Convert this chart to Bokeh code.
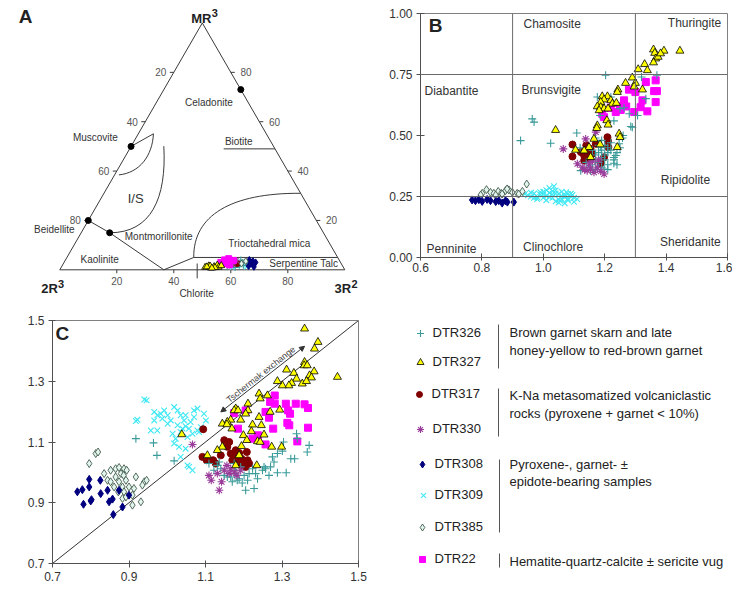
import numpy as np
from bokeh.plotting import figure
from bokeh.layouts import row, column
from bokeh.models import (ColumnDataSource, Range1d, FixedTicker, PrintfTickFormatter,
                          Span, Label, Arrow, NormalHead)
from bokeh.core.properties import value
from bokeh.embed import file_html
from bokeh.resources import INLINE

FONT = "Liberation Sans"
H = np.sqrt(3) / 2

# ------------------------------------------------------------------
# Chlorite analyses, Al(IV) vs Fe/(Fe+Mg)  (panel B)
# ------------------------------------------------------------------
DTR326_B_AL4 = [0.926, 0.964, 0.970, 1.024, 1.109, 1.203, 1.370, 1.334, 1.307, 1.285, 1.280, 1.263,
                1.176, 1.220, 1.185, 1.258, 1.247, 1.236, 1.230, 1.198, 1.154, 1.122, 1.187,
                1.18, 1.19, 1.20, 1.21, 1.19, 1.17, 1.18, 1.20, 1.21, 1.22, 1.17, 1.16, 1.15, 1.19,
                1.21, 1.23, 1.24, 1.22, 1.20, 1.18, 1.16, 1.17, 1.14, 1.25, 1.23, 1.26, 1.21, 1.24,
                1.19, 1.17, 1.25, 1.32, 1.23, 1.12, 1.29]
DTR326_B_FE = [0.479, 0.568, 0.555, 0.468, 0.510, 0.747, 0.747, 0.651, 0.582, 0.537, 0.589, 0.614,
               0.658, 0.658, 0.582, 0.490, 0.466, 0.418, 0.386, 0.363, 0.356, 0.356, 0.452,
               0.43, 0.44, 0.42, 0.45, 0.41, 0.40, 0.39, 0.40, 0.43, 0.44, 0.42, 0.38, 0.37, 0.37,
               0.38, 0.41, 0.43, 0.47, 0.46, 0.46, 0.44, 0.36, 0.39, 0.45, 0.40, 0.50, 0.36, 0.38,
               0.48, 0.49, 0.61, 0.74, 0.56, 0.45, 0.534]

DTR327_B_AL4 = [1.040, 1.359, 1.363, 1.393, 1.445, 1.366, 1.359, 1.374, 1.382, 1.330, 1.309, 1.339,
                1.290, 1.300, 1.268, 1.243, 1.241, 1.323, 1.296, 1.209, 1.192, 1.198, 1.187, 1.220,
                1.225, 1.238, 1.176, 1.187, 1.198, 1.211, 1.182, 1.207, 1.211, 1.176, 1.174, 1.247,
                1.250, 1.241, 1.165, 1.149, 1.133, 1.105, 1.185, 1.154]
DTR327_B_FE = [0.522, 0.852, 0.838, 0.847, 0.847, 0.815, 0.799, 0.822, 0.836, 0.792, 0.771, 0.767,
               0.737, 0.715, 0.715, 0.688, 0.678, 0.688, 0.700, 0.660, 0.660, 0.647, 0.637, 0.644,
               0.630, 0.633, 0.619, 0.616, 0.610, 0.610, 0.603, 0.562, 0.544, 0.541, 0.530, 0.507,
               0.493, 0.452, 0.486, 0.452, 0.438, 0.441, 0.463, 0.411]

DTR317_B_AL4 = [1.095, 1.095, 1.122, 1.133, 1.154, 1.160, 1.209, 1.211, 1.212, 1.187, 1.143, 1.171,
                1.198, 1.133, 1.150, 1.140]
DTR317_B_FE = [0.463, 0.414, 0.432, 0.418, 0.445, 0.425, 0.493, 0.477, 0.452, 0.386, 0.404, 0.466,
               0.411, 0.397, 0.430, 0.460]

DTR330_B_AL4 = [1.065, 1.138, 1.111, 1.127, 1.143, 1.154, 1.165, 1.176, 1.187, 1.198, 1.149, 1.160,
                1.171, 1.135, 1.180]
DTR330_B_FE = [0.445, 0.486, 0.384, 0.370, 0.356, 0.363, 0.349, 0.370, 0.353, 0.342, 0.384, 0.395,
               0.514, 0.360, 0.400]

DTR308_B_AL4 = [0.768, 0.779, 0.790, 0.801, 0.817, 0.828, 0.845, 0.855, 0.866, 0.883, 0.904, 0.877]
DTR308_B_FE = [0.236, 0.233, 0.237, 0.230, 0.238, 0.233, 0.229, 0.233, 0.223, 0.227, 0.227, 0.233]

DTR309_B_AL4 = [0.94, 0.95, 0.96, 0.97, 0.98, 0.99, 1.00, 1.01, 1.02, 1.03, 1.04, 1.05, 1.06, 1.07,
                1.08, 1.09, 1.10, 1.11, 0.96, 0.98, 1.00, 1.02, 1.04, 1.06, 1.08, 1.10, 0.97, 0.99,
                1.01, 1.03, 1.05, 1.07, 1.09, 1.00, 1.02, 1.04, 1.06, 1.08, 1.03, 1.05, 1.07, 1.01,
                1.035, 1.055, 1.075, 1.095]
DTR309_B_FE = [0.260, 0.255, 0.250, 0.262, 0.248, 0.258, 0.270, 0.252, 0.265, 0.245, 0.275, 0.260,
               0.240, 0.255, 0.235, 0.250, 0.245, 0.240, 0.265, 0.240, 0.245, 0.285, 0.230, 0.270,
               0.260, 0.228, 0.245, 0.268, 0.235, 0.258, 0.225, 0.248, 0.262, 0.258, 0.248, 0.262,
               0.252, 0.242, 0.272, 0.238, 0.222, 0.276, 0.292, 0.232, 0.268, 0.256]

DTR385_B_AL4 = [0.801, 0.815, 0.828, 0.839, 0.853, 0.863, 0.877, 0.888, 0.899, 0.915, 0.932, 0.946,
                0.796, 0.845, 0.866, 0.882, 0.920]
DTR385_B_FE = [0.263, 0.278, 0.267, 0.263, 0.271, 0.263, 0.274, 0.277, 0.267, 0.263, 0.271, 0.301,
               0.256, 0.256, 0.260, 0.281, 0.260]

DTR22_B_AL4 = [1.220, 1.236, 1.252, 1.263, 1.279, 1.300, 1.317, 1.323, 1.339, 1.334, 1.361, 1.370,
               1.366, 1.366, 1.270, 1.198, 1.192, 1.296, 1.250]
DTR22_B_FE = [0.614, 0.596, 0.605, 0.644, 0.688, 0.678, 0.616, 0.644, 0.599, 0.719, 0.682, 0.682,
              0.637, 0.726, 0.619, 0.575, 0.589, 0.596, 0.620]

# ------------------------------------------------------------------
# Al(IV) vs Al(VI)  (panel C)
# ------------------------------------------------------------------
DTR327_C_AL4 = [1.359, 1.394, 1.385, 1.359, 1.358, 1.366, 1.384, 1.372, 1.377, 1.353, 1.364, 1.312,
                1.331, 1.338, 1.325, 1.318, 1.301, 1.288, 1.445, 1.262, 1.240, 1.243, 1.269, 1.294,
                1.211, 1.211, 1.205, 1.179, 1.175, 1.185, 1.166, 1.157, 1.144, 1.156, 1.192, 1.169,
                1.223, 1.246, 1.240, 1.253, 1.220, 1.199, 1.194, 1.208, 1.236, 1.243, 1.273, 1.299,
                1.144, 1.131, 1.105, 1.188, 1.179, 1.234, 1.038]
DTR327_C_AL6 = [1.473, 1.429, 1.407, 1.363, 1.352, 1.352, 1.332, 1.319, 1.312, 1.292, 1.300, 1.338,
                1.327, 1.308, 1.294, 1.286, 1.286, 1.300, 1.314, 1.253, 1.259, 1.243, 1.199, 1.206,
                1.226, 1.204, 1.193, 1.210, 1.204, 1.204, 1.173, 1.166, 1.160, 1.158, 1.173, 1.144,
                1.157, 1.155, 1.182, 1.124, 1.135, 1.122, 1.086, 1.106, 1.102, 1.100, 1.084, 1.084,
                1.084, 1.073, 1.056, 1.056, 1.023, 1.023, 1.125]

DTR22_C_AL4 = [1.281, 1.269, 1.281, 1.310, 1.336, 1.359, 1.368, 1.316, 1.321, 1.257, 1.266, 1.205,
               1.185, 1.277, 1.314, 1.319, 1.368, 1.340, 1.223, 1.237, 1.257, 1.175]
DTR22_C_AL6 = [1.253, 1.232, 1.226, 1.226, 1.226, 1.224, 1.212, 1.204, 1.193, 1.199, 1.180, 1.204,
               1.144, 1.144, 1.163, 1.155, 1.147, 1.102, 1.111, 1.122, 1.092, 1.195]

DTR317_C_AL4 = [1.094, 1.092, 1.103, 1.120, 1.127, 1.149, 1.162, 1.166, 1.175, 1.188, 1.194, 1.208,
                1.210, 1.214, 1.205, 1.179, 1.157, 1.140, 1.170, 1.196, 1.183]
DTR317_C_AL6 = [1.142, 1.051, 1.040, 1.040, 1.029, 1.106, 1.100, 1.062, 1.051, 1.064, 1.045, 1.067,
                1.040, 1.029, 1.018, 1.073, 1.084, 1.056, 1.040, 1.023, 1.034]

DTR330_C_AL4 = [1.066, 1.109, 1.115, 1.131, 1.142, 1.136, 1.149, 1.156, 1.166, 1.175, 1.192, 1.182, 1.162]
DTR330_C_AL6 = [1.092, 0.990, 0.974, 0.996, 0.969, 0.941, 1.007, 1.023, 1.012, 1.001, 1.007, 0.990, 0.996]

DTR326_C_AL4 = [0.918, 0.964, 0.973, 1.018, 1.109, 1.122, 1.140, 1.157, 1.175, 1.183, 1.196, 1.210,
                1.205, 1.227, 1.231, 1.249, 1.257, 1.279, 1.275, 1.270, 1.288, 1.301, 1.304, 1.323,
                1.338, 1.340, 1.371, 1.366, 1.333, 1.311, 1.288, 1.266, 1.253, 1.223, 1.131, 1.149,
                1.166, 1.170, 1.188, 1.214, 1.236, 1.136, 1.175, 1.192, 1.179, 1.201]
DTR326_C_AL6 = [1.111, 1.097, 1.056, 1.038, 1.029, 1.007, 1.012, 0.985, 0.996, 0.974, 0.965, 0.974,
                0.941, 0.947, 0.996, 1.007, 1.012, 1.034, 1.051, 1.018, 1.062, 1.070, 1.100, 1.045,
                1.127, 1.111, 1.089, 1.067, 1.045, 0.999, 0.999, 0.990, 1.018, 1.012, 1.023, 0.990,
                0.985, 0.969, 0.979, 0.996, 0.979, 1.034, 1.029, 1.018, 1.007, 0.990]

DTR309_C_AL4 = [0.940, 0.946, 0.922, 0.918, 0.966, 0.974, 0.983, 0.992, 1.001, 0.987, 1.018, 1.027,
                1.035, 1.048, 1.070, 1.079, 1.070, 1.061, 1.048, 1.040, 1.027, 1.009, 1.001, 1.014,
                1.022, 1.035, 1.053, 1.066, 1.083, 1.088, 1.096, 1.101, 1.018, 1.031, 1.048, 1.035,
                1.053, 1.066, 1.057, 1.079, 0.957, 0.974, 0.966, 1.044, 1.057]
DTR309_C_AL6 = [1.240, 1.237, 1.173, 1.169, 1.199, 1.188, 1.193, 1.204, 1.188, 1.177, 1.215, 1.204,
                1.188, 1.188, 1.204, 1.210, 1.182, 1.166, 1.152, 1.144, 1.155, 1.171, 1.160, 1.127,
                1.111, 1.133, 1.116, 1.127, 1.133, 1.149, 1.193, 1.171, 1.095, 1.084, 1.078, 1.051,
                1.023, 1.007, 1.018, 1.138, 1.138, 1.138, 1.171, 1.171, 1.144]

DTR385_C_AL4 = [0.796, 0.813, 0.819, 0.835, 0.852, 0.865, 0.874, 0.879, 0.887, 0.894, 0.844, 0.852,
                0.865, 0.874, 0.886, 0.892, 0.861, 0.872, 0.883, 0.887, 0.900, 0.913, 0.909, 0.918,
                0.940, 0.935, 0.946, 0.931, 0.909, 0.883, 0.892]
DTR385_C_AL6 = [1.029, 1.062, 1.067, 0.996, 1.007, 1.012, 1.016, 0.996, 1.012, 1.007, 0.974, 0.969,
                0.985, 0.969, 0.990, 0.974, 0.952, 0.936, 0.952, 0.936, 0.952, 0.947, 0.925, 0.985,
                0.969, 0.958, 0.974, 0.903, 0.892, 0.914, 0.919]

DTR308_C_AL4 = [0.765, 0.778, 0.796, 0.796, 0.781, 0.800, 0.802, 0.825, 0.826, 0.844, 0.848, 0.857,
                0.874, 0.900, 0.883, 0.859]
DTR308_C_AL6 = [0.936, 0.943, 0.952, 0.977, 0.895, 0.906, 0.910, 0.974, 0.930, 0.941, 0.903, 0.912,
                0.941, 0.925, 0.886, 0.861]

# ------------------------------------------------------------------
# Ternary MR3 - 2R3 - 3R2 (panel A): MR3 % and 3R2 % of each analysis
# ------------------------------------------------------------------
DTR327_A_MR3 = [1.0, 1.6, 0.8, 1.3, 1.9, 1.1, 1.5, 0.9, 1.7, 1.2, 0.7]
DTR327_A_3R2 = [50.5, 51.5, 52.5, 53.5, 54.3, 55.2, 52.0, 54.0, 55.8, 51.0, 53.0]
DTR22_A_MR3 = [3.0, 4.0, 2.5, 3.5, 4.5, 2.0, 3.8]
DTR22_A_3R2 = [55.0, 55.8, 56.5, 57.2, 57.0, 58.5, 59.0]
DTR330_A_MR3 = [2.5, 3.2, 2.0, 3.8]
DTR330_A_3R2 = [57.5, 58.5, 59.5, 60.0]
DTR326_A_MR3 = [1.5, 2.5, 3.5, 1.0, 2.0, 3.0, 4.0, 1.8, 2.8]
DTR326_A_3R2 = [58.0, 59.0, 60.0, 61.0, 62.0, 62.5, 61.5, 63.5, 64.0]
DTR317_A_MR3 = [2.0, 3.0, 2.5]
DTR317_A_3R2 = [58.5, 59.5, 61.0]
DTR309_A_MR3 = [1.0, 1.5, 2.0, 2.5, 1.2]
DTR309_A_3R2 = [60.0, 61.5, 63.0, 64.5, 65.0]
DTR385_A_MR3 = [2.5, 3.5]
DTR385_A_3R2 = [62.5, 63.5]
DTR308_A_MR3 = [1.5, 2.5, 3.5, 2.0, 3.0, 1.2, 4.0]
DTR308_A_3R2 = [65.5, 65.8, 66.0, 67.0, 67.2, 67.5, 64.5]

# Ternary frame, ticks and reference compositions (MR3 %, 3R2 %)
TRI_MR3 = [0, 0, 100, 0]
TRI_3R2 = [0, 100, 0, 0]
TERN_TICKS = [20, 40, 60, 80]
END_MEMBER_NAMES = ["Muscovite", "Beidellite", "Montmorillonite", "Celadonite"]
END_MEMBER_MR3 = [50, 20, 15, 73]
END_MEMBER_3R2 = [0, 0, 10, 27]

# Chlorite / mica field boundaries (MR3 %, 3R2 %)
KAOL_MR3 = [20, 15, 0, 5]
KAOL_3R2 = [0, 10, 36.5, 44.5]
SERP_MR3 = [5, 5]
SERP_3R2 = [44.5, 95]
BIOT_MR3 = [49, 49]
BIOT_3R2 = [33, 51]
MUSC_MR3 = [50, 55.1]
MUSC_3R2 = [0, 5.3]
# cubic Bezier fields: start, control 1, control 2, end
MUSC_CURVE_MR3 = [55.1, 46.2, 39.3, 38.45]
MUSC_CURVE_3R2 = [5.3, 9.4, 8.37, 1.5]
IS_CURVE_MR3 = [50.1, 28.87, 15.01, 15]
IS_CURVE_3R2 = [11.45, 23.07, 24.5, 10]
MICA_CURVE_MR3 = [5, 21.94, 31.18, 31]
MICA_CURVE_3R2 = [44.5, 35.83, 44.41, 69]

# Chlorite classification limits (panel B) and 1:1 line (panel C)
B_AL4_LIMITS = [0.9, 1.3]
B_FE_LIMITS = [0.25, 0.75]
B_XTICKS = [0.6, 0.8, 1.0, 1.2, 1.4, 1.6]
B_YTICKS = [0.0, 0.25, 0.5, 0.75, 1.0]
C_TICKS = [0.7, 0.9, 1.1, 1.3, 1.5]
ONE_TO_ONE = [0.7, 1.5]
TSCHERMAK_START = (1.14, 1.199)
TSCHERMAK_END = (1.359, 1.415)

SAMPLES = ["DTR309", "DTR385", "DTR308", "DTR22", "DTR317", "DTR326", "DTR330", "DTR327"]
DATA_B = {
    "DTR326": (DTR326_B_AL4, DTR326_B_FE), "DTR327": (DTR327_B_AL4, DTR327_B_FE),
    "DTR317": (DTR317_B_AL4, DTR317_B_FE), "DTR330": (DTR330_B_AL4, DTR330_B_FE),
    "DTR308": (DTR308_B_AL4, DTR308_B_FE), "DTR309": (DTR309_B_AL4, DTR309_B_FE),
    "DTR385": (DTR385_B_AL4, DTR385_B_FE), "DTR22": (DTR22_B_AL4, DTR22_B_FE),
}
DATA_C = {
    "DTR326": (DTR326_C_AL4, DTR326_C_AL6), "DTR327": (DTR327_C_AL4, DTR327_C_AL6),
    "DTR317": (DTR317_C_AL4, DTR317_C_AL6), "DTR330": (DTR330_C_AL4, DTR330_C_AL6),
    "DTR308": (DTR308_C_AL4, DTR308_C_AL6), "DTR309": (DTR309_C_AL4, DTR309_C_AL6),
    "DTR385": (DTR385_C_AL4, DTR385_C_AL6), "DTR22": (DTR22_C_AL4, DTR22_C_AL6),
}
DATA_A = {
    "DTR309": (DTR309_A_MR3, DTR309_A_3R2), "DTR326": (DTR326_A_MR3, DTR326_A_3R2),
    "DTR317": (DTR317_A_MR3, DTR317_A_3R2), "DTR330": (DTR330_A_MR3, DTR330_A_3R2),
    "DTR22": (DTR22_A_MR3, DTR22_A_3R2), "DTR327": (DTR327_A_MR3, DTR327_A_3R2),
    "DTR308": (DTR308_A_MR3, DTR308_A_3R2), "DTR385": (DTR385_A_MR3, DTR385_A_3R2),
}

STYLE = {
    "DTR326": dict(marker="cross", size=8, line_color="#3a9a9a", fill_color=None, line_width=1.1),
    "DTR327": dict(marker="triangle", size=8, line_color="#000000", fill_color="#ffff00", line_width=0.8),
    "DTR317": dict(marker="circle", size=7, line_color="#800000", fill_color="#800000", line_width=1),
    "DTR330": dict(marker="asterisk", size=8, line_color="#9a3c9a", fill_color=None, line_width=1.1),
    "DTR308": dict(marker="diamond", size=8, line_color="#00007f", fill_color="#00007f", line_width=1),
    "DTR309": dict(marker="x", size=8, line_color="#3ee8f4", fill_color=None, line_width=1.1),
    "DTR385": dict(marker="diamond", size=8, line_color="#405a4a", fill_color="#e4f4ee", line_width=0.9),
    "DTR22": dict(marker="square", size=7, line_color="#ff00ff", fill_color="#ff00ff", line_width=1),
}


def ternary_xy(mr3, r2):
    """Convert MR3 % and 3R2 % to cartesian diagram units (edge length 100)."""
    mr3 = np.asarray(mr3, dtype=float)
    r2 = np.asarray(r2, dtype=float)
    return r2 + mr3 / 2.0, mr3 * H


def add_text(p, x, y, text, size="10px", color="#333333", align="center",
             baseline="middle", bold=False, angle=0.0):
    p.text(x=x, y=y, text=text, text_font=value(FONT), text_font_size=size,
           text_color=color, text_align=align, text_baseline=baseline,
           text_font_style="bold" if bold else "normal", angle=angle)


def screen_label(p, x, y, text, size, align="left", baseline="alphabetic", angle=0.0):
    p.add_layout(Label(x=x, y=y, x_units="screen", y_units="screen", text=text,
                       text_font=FONT, text_font_size=size, text_font_style="bold",
                       text_align=align, text_baseline=baseline, angle=angle,
                       text_color="#222222"))


# ==================================================================
# Panel A : ternary diagram
# ==================================================================
pa = figure(width=360, height=300, x_range=Range1d(-20.8, 105.5), y_range=Range1d(-10.77, 94.49),
            output_backend="svg", toolbar_location=None, min_border=0,
            x_axis_location=None, y_axis_location=None)
pa.grid.visible = False
pa.outline_line_color = None
pa.background_fill_color = "white"

LINE = "#3a3a3a"
tx, ty = ternary_xy(TRI_MR3, TRI_3R2)
pa.line(tx, ty, line_color=LINE, line_width=1)

# ticks and tick labels on the three edges
t = np.array(TERN_TICKS, dtype=float)
lx, ly = ternary_xy(100 - t, np.zeros_like(t))
pa.segment(lx, ly, lx - 1.4, ly, line_color=LINE, line_width=1)
add_text(pa, lx - 2.6, ly, [str(int(v)) for v in t], size="10px", color="#555555", align="right")
rx, ry = ternary_xy(t, 100 - t)
pa.segment(rx, ry, rx + 1.4, ry, line_color=LINE, line_width=1)
add_text(pa, rx + 3.4, ry, [str(int(v)) for v in t], size="10px", color="#555555", align="left")
bx, by = ternary_xy(np.zeros_like(t), t)
pa.segment(bx, by, bx, by - 1.2, line_color=LINE, line_width=1)
add_text(pa, bx, by - 2.6, [str(int(v)) for v in t], size="10px", color="#555555", baseline="top")

# field boundaries
for mr3, r2 in [(KAOL_MR3, KAOL_3R2), (SERP_MR3, SERP_3R2), (BIOT_MR3, BIOT_3R2), (MUSC_MR3, MUSC_3R2)]:
    x, y = ternary_xy(mr3, r2)
    pa.line(x, y, line_color=LINE, line_width=1)
for mr3, r2 in [(MUSC_CURVE_MR3, MUSC_CURVE_3R2), (IS_CURVE_MR3, IS_CURVE_3R2),
                (MICA_CURVE_MR3, MICA_CURVE_3R2)]:
    x, y = ternary_xy(mr3, r2)
    pa.bezier(x0=[x[0]], y0=[y[0]], cx0=[x[1]], cy0=[y[1]], cx1=[x[2]], cy1=[y[2]],
              x1=[x[3]], y1=[y[3]], line_color=LINE, line_width=1)
pa.segment([48.2], [-3.0], [48.2], [2.2], line_color=LINE, line_width=1)

ex, ey = ternary_xy(END_MEMBER_MR3, END_MEMBER_3R2)
pa.scatter(ex, ey, marker="circle", size=6, color="black")

for s in ["DTR309", "DTR326", "DTR317", "DTR330", "DTR22", "DTR327", "DTR308", "DTR385"]:
    mr3, r2 = DATA_A[s]
    x, y = ternary_xy(mr3, r2)
    st = dict(STYLE[s])
    st["size"] = st["size"] - 1
    pa.scatter(x, y, **st)

add_text(pa, [-12.0], [88.8], ["A"], size="19px", color="#222222", bold=True)
add_text(pa, [53.2], [88.3], ["MR"], size="13px", color="#222222", align="right", baseline="alphabetic", bold=True)
add_text(pa, [53.3], [90.0], ["3"], size="11px", color="#222222", align="left", baseline="alphabetic", bold=True)
add_text(pa, [-0.7], [-6.7], ["2R"], size="13px", color="#222222", align="right", baseline="alphabetic", bold=True)
add_text(pa, [-0.6], [-4.9], ["3"], size="11px", color="#222222", align="left", baseline="alphabetic", bold=True)
add_text(pa, [102.2], [-6.7], ["3R"], size="13px", color="#222222", align="right", baseline="alphabetic", bold=True)
add_text(pa, [102.3], [-4.9], ["2"], size="11px", color="#222222", align="left", baseline="alphabetic", bold=True)

add_text(pa,
         [48.0, 52.3, 12.5, 62.8, -1.9, 34.7, 14.0, 73.5, 85.6],
         [-8.4, 58.6, 46.5, 45.1, 14.0, 11.7, 3.5, 9.1, 2.1],
         ["Chlorite", "Celadonite", "Muscovite", "Biotite", "Beidellite", "Montmorillonite",
          "Kaolinite", "Trioctahedral mica", "Serpentine Talc"], size="10px")
add_text(pa, [26.6], [24.9], ["I/S"], size="13px")

# ==================================================================
# Panel B : Al(IV) vs Fe/(Fe+Mg)
# ==================================================================
pb = figure(width=372, height=300, x_range=Range1d(0.6, 1.6), y_range=Range1d(0, 1),
            output_backend="svg", toolbar_location=None,
            min_border_left=60, min_border_right=5, min_border_top=13, min_border_bottom=43)


def style_axes(p, xticks, yticks, xfmt, yfmt, font_size):
    p.grid.visible = False
    p.outline_line_color = "#808080"
    p.xaxis.ticker = FixedTicker(ticks=xticks)
    p.yaxis.ticker = FixedTicker(ticks=yticks)
    p.xaxis.formatter = PrintfTickFormatter(format=xfmt)
    p.yaxis.formatter = PrintfTickFormatter(format=yfmt)
    for ax in (p.xaxis[0], p.yaxis[0]):
        ax.axis_line_color = "#505050"
        ax.major_tick_line_color = "#505050"
        ax.minor_tick_line_color = None
        ax.major_tick_in = 4
        ax.major_tick_out = 4
        ax.major_label_text_font = FONT
        ax.major_label_text_font_size = font_size
        ax.major_label_text_color = "#333333"
        ax.major_label_standoff = 4


style_axes(pb, B_XTICKS, B_YTICKS, "%.1f", "%.2f", "12px")
pb.xaxis[0].major_tick_out = 3
pb.xaxis[0].major_label_standoff = 2

for v in B_AL4_LIMITS:
    pb.add_layout(Span(location=v, dimension="height", line_color="#6a6a6a", line_width=1))
for v in B_FE_LIMITS:
    pb.add_layout(Span(location=v, dimension="width", line_color="#6a6a6a", line_width=1))

for s in SAMPLES:
    x, y = DATA_B[s]
    pb.scatter(x, y, **STYLE[s])

add_text(pb, [0.649], [0.951], ["B"], size="19px", color="#222222", bold=True)
add_text(pb,
         [1.029, 1.4925, 0.701, 1.026, 1.463, 0.701, 1.032, 1.479],
         [0.958, 0.960, 0.684, 0.687, 0.316, 0.036, 0.042, 0.063],
         ["Chamosite", "Thuringite", "Diabantite", "Brunsvigite", "Ripidolite",
          "Penninite", "Clinochlore", "Sheridanite"], size="12px")

screen_label(pb, -47, 122, "Fe/Fe+Mg", "11px", align="center", baseline="middle", angle=np.pi / 2)
screen_label(pb, 152, -35, "Al", "13px", align="right")
screen_label(pb, 152, -30, "IV", "10px", align="left")

# ==================================================================
# Panel C : Al(IV) vs Al(VI)
# ==================================================================
pc = figure(width=400, height=300, x_range=Range1d(0.7, 1.5), y_range=Range1d(0.7, 1.5),
            output_backend="svg", toolbar_location=None,
            min_border_left=52, min_border_right=42, min_border_top=20, min_border_bottom=37)
style_axes(pc, C_TICKS, C_TICKS, "%.1f", "%.1f", "12px")
pc.xaxis[0].major_tick_in = 3
pc.yaxis[0].major_tick_in = 3

pc.line(ONE_TO_ONE, ONE_TO_ONE, line_color="#333333", line_width=1)
head = dict(size=5, fill_color="#333333", line_color="#333333")
pc.add_layout(Arrow(start=NormalHead(**head), end=NormalHead(**head),
                    x_start=TSCHERMAK_START[0], y_start=TSCHERMAK_START[1],
                    x_end=TSCHERMAK_END[0], y_end=TSCHERMAK_END[1],
                    line_color="#333333", line_width=1))
add_text(pc, [1.2446], [1.3225], ["Tschermak exchange"], size="9px", color="#444444",
         angle=np.arctan(243.0 / 306.0))

for s in SAMPLES:
    x, y = DATA_C[s]
    pc.scatter(x, y, **STYLE[s])

add_text(pc, [0.726], [1.457], ["C"], size="19px", color="#222222", bold=True)
screen_label(pc, -37, 106, "Al", "13px", angle=np.pi / 2)
screen_label(pc, -45, 121, "VI", "10px", angle=np.pi / 2)
screen_label(pc, 151, -31, "Al", "12px", align="right")
screen_label(pc, 151, -26, "IV", "9px", align="left")

# ==================================================================
# Legend panel
# ==================================================================
pl = figure(width=332, height=300, x_range=Range1d(0, 332), y_range=Range1d(300, 0),
            output_backend="svg", toolbar_location=None, min_border=0,
            x_axis_location=None, y_axis_location=None)
pl.grid.visible = False
pl.outline_line_color = None

LEG_ORDER = ["DTR326", "DTR327", "DTR317", "DTR330", "DTR308", "DTR309", "DTR385", "DTR22"]
leg_y = [33, 62, 94, 129, 164, 195, 227, 259]
leg_gx = [20, 20, 19, 20, 22, 23, 22, 22]
leg_tx = [32, 32, 31, 32, 34, 34, 34, 34]
for s, gy, gx in zip(LEG_ORDER, leg_y, leg_gx):
    st = dict(STYLE[s])
    st["size"] = st["size"] - 1
    pl.scatter([gx], [gy], **st)
add_text(pl, leg_tx, [y - 1 for y in leg_y], LEG_ORDER, size="13px", color="#222222", align="left")

pl.segment([98, 98, 99, 99], [24, 88, 159, 253], [98, 98, 99, 99], [68, 136, 232, 267],
           line_color="#555555", line_width=1)
GROUP_TEXT = ["Brown garnet skarn and late", "honey-yellow to red-brown garnet",
              "K-Na metasomatized volcaniclastic", "rocks (pyroxene + garnet < 10%)",
              "Pyroxene-, garnet- \u00b1", "epidote-bearing samples",
              "Hematite-quartz-calcite \u00b1 sericite vug"]
add_text(pl, [109] * 7, [32, 50, 95, 113, 164, 181, 261], GROUP_TEXT, size="13px",
         color="#222222", align="left")

# every panel keeps its own frame geometry inside the rows
for fig in (pa, pb, pc, pl):
    fig.frame_align = False

layout = column(row(pa, pb), row(pc, pl))
open("out.html", "w").write(file_html(layout, INLINE))
